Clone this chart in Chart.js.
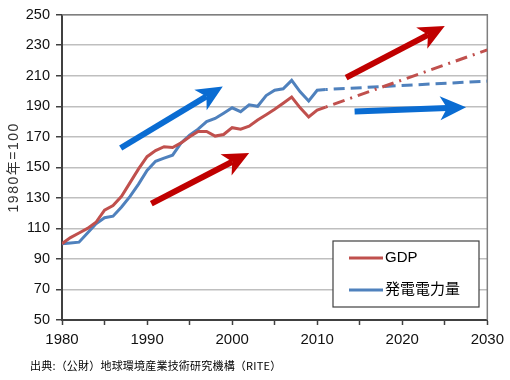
<!DOCTYPE html>
<html>
<head>
<meta charset="utf-8">
<script src="https://cdn.jsdelivr.net/npm/chart.js@4.4.1/dist/chart.umd.min.js"></script>
<style>
html,body{margin:0;padding:0;background:#fff;}
#wrap{position:relative;width:510px;height:380px;}
</style>
</head>
<body>
<div id="wrap"><canvas id="c" width="510" height="380"></canvas></div>
<script>
// ---- data (index, 1980 = 100) ----
const years = [1980,1981,1982,1983,1984,1985,1986,1987,1988,1989,1990,1991,1992,1993,1994,1995,1996,1997,1998,1999,2000,2001,2002,2003,2004,2005,2006,2007,2008,2009,2010,2011];
const gdp   = [100,104,107,110,114,122,125,131,140,149,157,161,163.5,163,166,170,173.5,173.5,170.5,171.5,176,175,177,181,184.5,188,192,196,189,183,187.5,189.5];
const power = [100,100.5,101,107,113,117,118,124,131,139,148,154,156,158,166,171,175,180,182,185.5,189,186.5,191,190,197,200.5,201.5,207,199.5,193.5,200.5,201];
const projYears = [2011,2030];
const gdpProj   = [189.5,227];
const powerProj = [201,206.5];
const seriesNames = ['GDP','発電電力量'];
const yTitle = '1980年=100';
const sourceNote = '出典:（公財）地球環境産業技術研究機構（RITE）';
// trend arrows, in (year, index) coordinates
const arrowFrom = [[1986.9,162.7],[1990.5,126.2],[2013.4,208.8],[2014.4,186.6]];
const arrowTo   = [[1998.9,202.9],[2002.0,159.4],[2025.0,242.6],[2027.5,189.4]];
const arrowColors = ['#0A6CD2','#C00000','#C00000','#0A6CD2'];

const RED = '#C0504D', BLUE = '#4F81BD';
const FONT = "'Liberation Sans', Arial, 'Noto Sans CJK JP', sans-serif";
const pts = (xs, ys) => xs.map((x,i)=>({x:x,y:ys[i]}));

const framePlugin = {
  id:'frame',
  beforeDatasetsDraw(chart){
    const {ctx, chartArea:a} = chart;
    ctx.save();
    ctx.strokeStyle = '#7f7f7f';
    ctx.lineWidth = 1.5;
    ctx.beginPath();
    ctx.moveTo(a.left, a.top); ctx.lineTo(a.right, a.top); ctx.lineTo(a.right, a.bottom);
    ctx.stroke();
    ctx.restore();
  },
  afterDraw(chart){
    const {ctx, chartArea:a} = chart;
    const xs = chart.scales.x, ys = chart.scales.y;
    // arrows
    ctx.save();
    for (let i=0;i<arrowFrom.length;i++){
      const x0 = xs.getPixelForValue(arrowFrom[i][0]), y0 = ys.getPixelForValue(arrowFrom[i][1]);
      const x1 = xs.getPixelForValue(arrowTo[i][0]), y1 = ys.getPixelForValue(arrowTo[i][1]);
      const ang = Math.atan2(y1-y0, x1-x0);
      const hl = 23, hw = 12;
      const bx = x1 - hl*Math.cos(ang), by = y1 - hl*Math.sin(ang);
      ctx.strokeStyle = arrowColors[i]; ctx.fillStyle = arrowColors[i];
      ctx.lineWidth = 6; ctx.lineCap = 'butt';
      ctx.beginPath(); ctx.moveTo(x0,y0); ctx.lineTo(bx+4*Math.cos(ang), by+4*Math.sin(ang)); ctx.stroke();
      ctx.beginPath();
      ctx.moveTo(x1,y1);
      ctx.lineTo(bx - hw*Math.sin(ang) - 3*Math.cos(ang), by + hw*Math.cos(ang) - 3*Math.sin(ang));
      ctx.lineTo(bx + 4*Math.cos(ang), by + 4*Math.sin(ang));
      ctx.lineTo(bx + hw*Math.sin(ang) - 3*Math.cos(ang), by - hw*Math.cos(ang) - 3*Math.sin(ang));
      ctx.closePath(); ctx.fill();
    }
    // legend box
    const lx = 333, ly = 241, lw = 146, lh = 66;
    ctx.fillStyle = '#fff';
    ctx.fillRect(lx, ly, lw, lh);
    ctx.strokeStyle = '#404040'; ctx.lineWidth = 1.2;
    ctx.strokeRect(lx, ly, lw, lh);
    const cols = [RED, BLUE], rowY = [258, 290];
    ctx.font = '15px ' + FONT; ctx.textBaseline = 'middle'; ctx.textAlign = 'left';
    for (let i=0;i<2;i++){
      ctx.strokeStyle = cols[i]; ctx.lineWidth = 3;
      ctx.beginPath(); ctx.moveTo(349, rowY[i]); ctx.lineTo(383, rowY[i]); ctx.stroke();
      ctx.fillStyle = '#000';
      ctx.fillText(seriesNames[i], 385, rowY[i]);
    }
    // y axis title
    ctx.save();
    ctx.translate(14, (a.top + a.bottom)/2);
    ctx.rotate(-Math.PI/2);
    ctx.font = '14px ' + FONT;
    ctx.letterSpacing = '1.5px';
    ctx.fillStyle = '#333'; ctx.textAlign = 'center'; ctx.textBaseline = 'middle';
    ctx.fillText(yTitle, 0, 0);
    ctx.restore();
    // source
    ctx.font = "11px 'Noto Sans CJK JP', sans-serif";
    ctx.letterSpacing = '0.2px';
    ctx.fillStyle = '#000'; ctx.textBaseline = 'middle'; ctx.textAlign = 'left';
    ctx.fillText(sourceNote, 30, 366);
    ctx.restore();
  }
};

new Chart(document.getElementById('c'), {
  type:'line',
  data:{
    datasets:[
      {label:seriesNames[0], data:pts(years,gdp), borderColor:RED, borderWidth:3, pointRadius:0, tension:0, fill:false},
      {label:seriesNames[1], data:pts(years,power), borderColor:BLUE, borderWidth:3, pointRadius:0, tension:0, fill:false},
      {label:seriesNames[0]+' 見通し', data:pts(projYears,gdpProj), borderColor:RED, borderWidth:3, borderDash:[12,6,2,6], borderDashOffset:-8, pointRadius:0, fill:false},
      {label:seriesNames[1]+' 見通し', data:pts(projYears,powerProj), borderColor:BLUE, borderWidth:3, borderDash:[11,6], borderDashOffset:-8, pointRadius:0, fill:false}
    ]
  },
  options:{
    responsive:false, animation:false,
    layout:{padding:{top:13, right:21, left:0, bottom:0}},
    plugins:{legend:{display:false}, tooltip:{enabled:false}},
    scales:{
      x:{type:'linear', min:1980, max:2030,
        afterFit(s){ s.height = 60; },
        border:{display:true, color:'#404040', width:2},
        grid:{drawOnChartArea:false, drawTicks:true, tickLength:5, tickColor:'#404040', tickWidth:1.5},
        ticks:{stepSize:5, autoSkip:false, maxRotation:0, padding:6, color:'#111', font:{family:FONT, size:15},
          callback:(v)=> (v%10===0 ? String(v) : '')}
      },
      y:{min:50, max:250,
        afterFit(s){ s.width = 62; },
        border:{display:true, color:'#404040', width:2},
        grid:{color:'#bfbfbf', lineWidth:1.5, tickLength:6, tickColor:'#404040', tickWidth:1.5},
        ticks:{stepSize:20, padding:6, color:'#111', font:{family:FONT, size:14.5}}
      }
    }
  },
  plugins:[framePlugin]
});
</script>
</body>
</html>
